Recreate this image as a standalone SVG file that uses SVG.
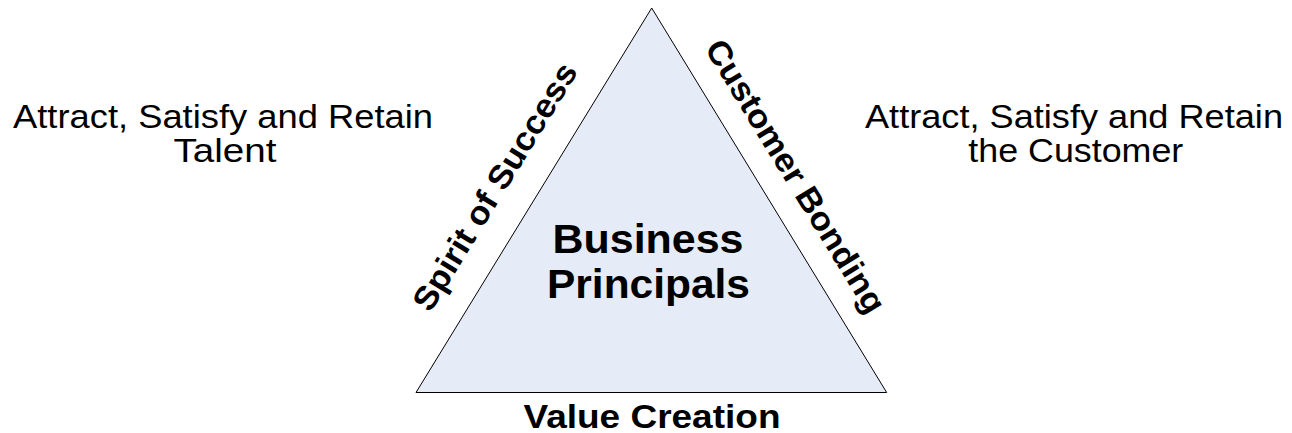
<svg xmlns="http://www.w3.org/2000/svg" width="1292" height="433" viewBox="0 0 1292 433">
<style>
.t{font-family:"Liberation Sans",Arial,sans-serif;fill:#000;text-anchor:middle}
.r{font-size:34px}
.b{font-weight:bold}
</style>
<rect width="1292" height="433" fill="#fff"/>
<g id="triangle">
<polygon points="651.7,8 416,392.5 886.7,392.5" fill="#E5EBF7" stroke="#000" stroke-width="1"/>
<text class="t b" x="648" y="252.7" font-size="40" textLength="191" lengthAdjust="spacingAndGlyphs">Business</text>
<text class="t b" x="648.5" y="298" font-size="40" textLength="203" lengthAdjust="spacingAndGlyphs">Principals</text>
</g>
<g id="side-left">
<text class="t b" font-size="33" transform="translate(504.5,192.5) rotate(-58.5)" x="0" y="0" textLength="284" lengthAdjust="spacingAndGlyphs">Spirit of Success</text>
</g>
<g id="side-right">
<text class="t b" font-size="33" transform="translate(786,182) rotate(58.5)" x="0" y="0" textLength="314" lengthAdjust="spacingAndGlyphs">Customer Bonding</text>
</g>
<g id="side-bottom">
<text class="t b" x="652" y="427.5" font-size="34" textLength="257" lengthAdjust="spacingAndGlyphs">Value Creation</text>
</g>
<g id="talent">
<text class="t r" x="223" y="128" textLength="420" lengthAdjust="spacingAndGlyphs">Attract, Satisfy and Retain</text>
<text class="t r" x="225" y="161.5" textLength="103" lengthAdjust="spacingAndGlyphs">Talent</text>
</g>
<g id="customer">
<text class="t r" x="1074" y="128" textLength="418" lengthAdjust="spacingAndGlyphs">Attract, Satisfy and Retain</text>
<text class="t r" x="1075.8" y="161.5" textLength="215" lengthAdjust="spacingAndGlyphs">the Customer</text>
</g>
<g id="connectors"/>
</svg>
